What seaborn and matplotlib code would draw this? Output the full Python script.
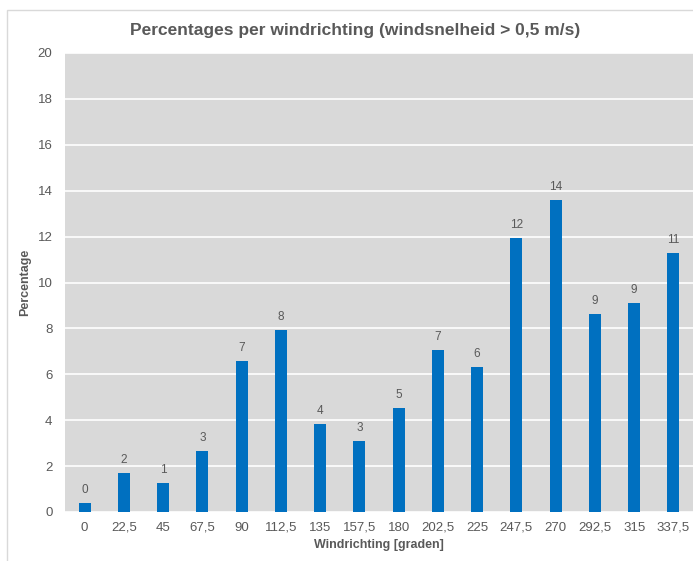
import matplotlib
matplotlib.use("Agg")
import matplotlib.pyplot as plt
import seaborn as sns
import numpy as np
from matplotlib.patches import Rectangle

# === DATA ===
richtingen = ["0", "22,5", "45", "67,5", "90", "112,5", "135", "157,5",
              "180", "202,5", "225", "247,5", "270", "292,5", "315", "337,5"]
percentages = [0.40, 1.69, 1.27, 2.65, 6.60, 7.95, 3.82, 3.10,
               4.52, 7.08, 6.33, 11.96, 13.60, 8.64, 9.12, 11.29]
y_ticks = list(range(0, 21, 2))

# === STYLE ===
sns.set_style("white")
plt.rcParams['font.family'] = ['Liberation Sans', 'DejaVu Sans']
tekst = '#595959'
blauw = '#0070c0'

fig = plt.figure(figsize=(6.93, 5.61), dpi=100)
ax = fig.add_axes([65 / 693, 1 - 512 / 561, 1 - 65 / 693, (512 - 53) / 561])

# rand rond de hele grafiek
fig.patches.append(Rectangle((7 / 693, -0.1), 1.2, 1 - 10 / 561 + 0.1,
                             transform=fig.transFigure, fill=False,
                             edgecolor='#d9d9d9', linewidth=1))

sns.barplot(x=richtingen, y=percentages, color=blauw, width=0.3,
            saturation=1, linewidth=0, ax=ax, zorder=3)
ax.bar_label(ax.containers[0], fmt='%.0f', padding=5, fontsize=8.5, color=tekst)

ax.set_facecolor('#d9d9d9')
ax.set_ylim(0, 20)
ax.set_yticks(y_ticks)
ax.grid(axis='y', color='white', linewidth=1.2, zorder=0)
ax.set_axisbelow(True)
for s in ax.spines.values():
    s.set_visible(False)
ax.tick_params(axis='both', length=0, labelsize=9.5, labelcolor=tekst)
ax.tick_params(axis='y', pad=9)
ax.tick_params(axis='x', pad=7)

ax.set_xlabel("Windrichting [graden]", fontsize=9, fontweight='bold',
              color=tekst, labelpad=4)
ax.set_ylabel("Percentage", fontsize=9, fontweight='bold', color=tekst,
              labelpad=5)

fig.text(355 / 693, 1 - 30 / 561,
         "Percentages per windrichting (windsnelheid > 0,5 m/s)",
         ha='center', va='center', fontsize=12.5, fontweight='bold', color=tekst)

plt.savefig("out.png", dpi=100)
